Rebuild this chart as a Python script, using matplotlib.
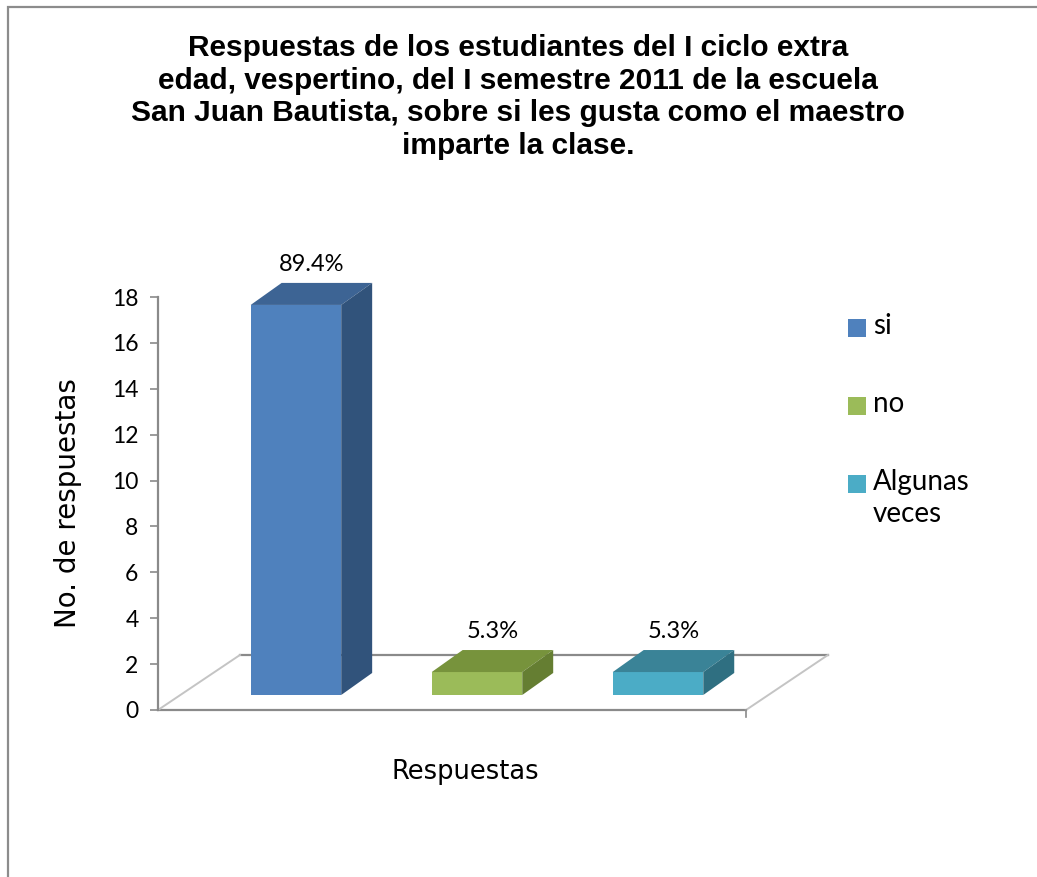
import numpy as np
import matplotlib.pyplot as plt
from matplotlib.patches import Polygon, Rectangle

# data
categories = ["si", "no", "Algunas\nveces"]
values = [17, 1, 1]
pct_labels = ["89.4%", "5.3%", "5.3%"]
yticks = [0, 2, 4, 6, 8, 10, 12, 14, 16, 18]

title = ("Respuestas de los estudiantes del I ciclo extra\n"
         "edad, vespertino, del I semestre 2011 de la escuela\n"
         "San Juan Bautista, sobre si les gusta como el maestro\n"
         "imparte la clase.")

front = ["#4F81BD", "#9BBB59", "#4BACC6"]
topc = ["#3D6494", "#77933C", "#3A8397"]
side = ["#31537B", "#657E32", "#2F6F81"]

W, H = 1037, 877
fig = plt.figure(figsize=(W / 100, H / 100), dpi=100)

# chart border (cut at right/bottom like the original)
fig.add_artist(Rectangle((8 / W, -0.1), 1.2, (H - 7) / H + 0.1, transform=fig.transFigure,
                         fill=False, edgecolor="#8c8c8c", linewidth=1.6))

# axes placed in pixel terms
left, right, bottom, top = 158, 830, 710, 297
ax = fig.add_axes([left / W, (H - bottom) / H, (right - left) / W, (bottom - top) / H])
ax.set_ylim(0, 18)
ax.set_xlim(-0.762, 2.95)

base = 0.654        # bar bottom (value units)
bw = 0.5            # bar width
ddx, ddy = 0.171, 0.96  # bar depth offset
fdx, fdy = 0.453, 2.40  # floor depth

# floor
x0, x1 = -0.762, 2.486
ax.plot([x0, x1], [0, 0], color="#8a8a8a", lw=1.6, clip_on=False, zorder=1)
ax.plot([x0 + fdx, x1 + fdx], [fdy, fdy], color="#8a8a8a", lw=1.6, clip_on=False, zorder=1)
ax.plot([x0, x0 + fdx], [0, fdy], color="#c4c4c4", lw=1.4, clip_on=False, zorder=1)
ax.plot([x1, x1 + fdx], [0, fdy], color="#c4c4c4", lw=1.4, clip_on=False, zorder=1)
ax.plot([x1, x1], [0, -0.3], color="#8a8a8a", lw=1.2, clip_on=False, zorder=1)

for i, v in enumerate(values):
    a, b = i - bw / 2, i + bw / 2
    t = base + v
    ax.add_patch(Polygon([(a, base), (b, base), (b, t), (a, t)], closed=True,
                         facecolor=front[i], edgecolor="none", zorder=3, clip_on=False))
    ax.add_patch(Polygon([(a, t), (a + ddx, t + ddy), (b + ddx, t + ddy), (b, t)], closed=True,
                         facecolor=topc[i], edgecolor="none", zorder=3, clip_on=False))
    ax.add_patch(Polygon([(b, base), (b + ddx, base + ddy), (b + ddx, t + ddy), (b, t)], closed=True,
                         facecolor=side[i], edgecolor="none", zorder=3, clip_on=False))
    ax.annotate(pct_labels[i], (i + ddx / 2, t + ddy), xytext=(0, 13), textcoords="offset points",
                ha="center", va="center", fontsize=17, family="Lato", color="black",
                annotation_clip=False)

for s in ["top", "right", "bottom"]:
    ax.spines[s].set_visible(False)
ax.spines["left"].set_color("#8a8a8a")
ax.spines["left"].set_linewidth(1.6)
ax.set_xticks([])
ax.set_yticks(yticks)
ax.tick_params(axis="y", length=6, width=1.2, color="#8a8a8a", pad=8, labelsize=16.5)
for lab in ax.get_yticklabels():
    lab.set_family("Lato")

fig.text(68 / W, 1 - 503 / H, "No. de respuestas", rotation=90, ha="center", va="center",
         fontsize=20, family="DejaVu Sans")
fig.text(465 / W, 1 - 772 / H, "Respuestas", ha="center", va="center",
         fontsize=18.5, family="DejaVu Sans")

fig.text(518 / W, 1 - 97 / H, title, ha="center", va="center", fontsize=21.5,
         fontweight="bold", family="Liberation Sans", linespacing=1.22)

# legend
for i, lab in enumerate(categories):
    yc = 328 + 78 * i
    fig.add_artist(Rectangle((848 / W, 1 - (yc + 9) / H), 18 / W, 18 / H,
                             transform=fig.transFigure, facecolor=front[i], edgecolor="none"))
    fig.text(873 / W, 1 - (yc - 15) / H, lab, ha="left", va="top", fontsize=20,
             family="Lato", linespacing=1.3)

fig.savefig("out.png", dpi=100)
